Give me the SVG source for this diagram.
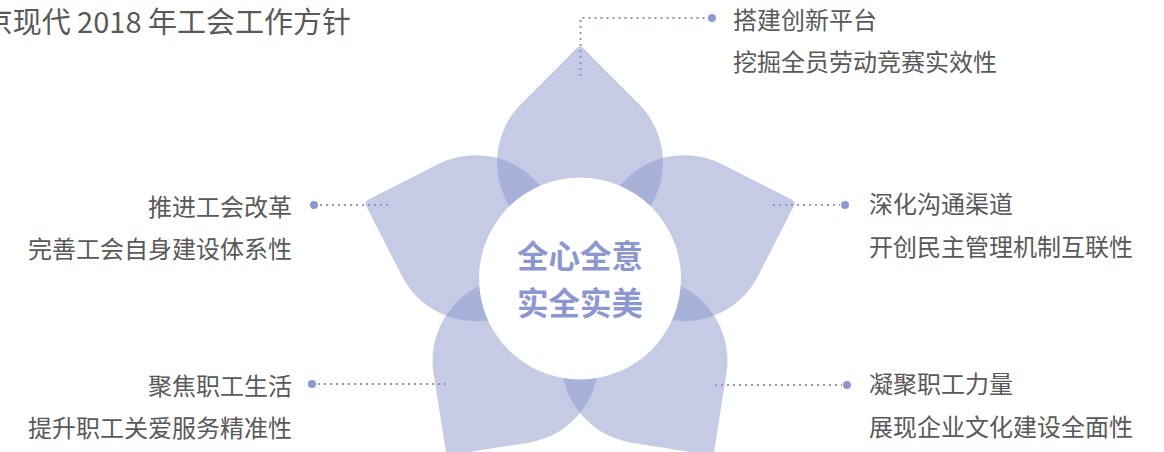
<svg xmlns="http://www.w3.org/2000/svg" width="1164" height="452" viewBox="0 0 1164 452">
  <style>
    .petal { fill: #8b97cb; fill-opacity: 0.5; }
    .lbl { font-family: "Noto Sans CJK SC", "Noto Sans", sans-serif; font-size: 24px; fill: #595959; }
    .title { font-family: "Noto Sans CJK SC", "Noto Sans", sans-serif; font-size: 29px; fill: #595959; }
    .core { font-family: "Noto Sans CJK SC", "Noto Sans", sans-serif; font-size: 31.5px; font-weight: bold; fill: #8c97cf; text-anchor: middle; }
    .dotline { fill: none; stroke: #8c97cf; stroke-width: 2; stroke-dasharray: 2 4; }
    .dot { fill: #8c97cf; }
  </style>
  <defs>
    <path id="petalShape" d="M-2.83,-224.15 A4,4 0 0 1 2.83,-224.15 L58.69,-168.29 A83,83 0 1 1 -58.69,-168.29 Z"/>
  </defs>

  <text class="title" x="351" y="33" text-anchor="end">京现代 2018 年工会工作方针</text>

  <g id="petals">
    <use href="#petalShape" class="petal" transform="translate(580,272) rotate(0)"/>
    <use href="#petalShape" class="petal" transform="translate(580,272) rotate(72)"/>
    <use href="#petalShape" class="petal" transform="translate(580,272) rotate(144)"/>
    <use href="#petalShape" class="petal" transform="translate(580,272) rotate(216)"/>
    <use href="#petalShape" class="petal" transform="translate(580,272) rotate(288)"/>
  </g>

  <g id="connectors">
    <path class="dotline" d="M580.5,76 L580.5,18 L708,18"/>
    <circle class="dot" cx="712" cy="18" r="4"/>
    <path class="dotline" d="M320,205 L389,205"/>
    <circle class="dot" cx="314" cy="205" r="4"/>
    <path class="dotline" d="M773,205 L840,205"/>
    <circle class="dot" cx="845" cy="205" r="4"/>
    <path class="dotline" d="M318,384 L446,384"/>
    <circle class="dot" cx="312" cy="384" r="4"/>
    <path class="dotline" d="M715,385 L842,385"/>
    <circle class="dot" cx="847" cy="385" r="4"/>
  </g>

  <g id="center">
    <circle cx="580" cy="278.5" r="101" fill="#ffffff"/>
    <text class="core" x="580" y="268">全心全意</text>
    <text class="core" x="580" y="315">实全实美</text>
  </g>

  <g id="node-top">
    <text class="lbl" x="733" y="29">搭建创新平台</text>
    <text class="lbl" x="733" y="71">挖掘全员劳动竞赛实效性</text>
  </g>
  <g id="node-left-top">
    <text class="lbl" x="292" y="216" text-anchor="end">推进工会改革</text>
    <text class="lbl" x="292" y="258" text-anchor="end">完善工会自身建设体系性</text>
  </g>
  <g id="node-right-top">
    <text class="lbl" x="869" y="213">深化沟通渠道</text>
    <text class="lbl" x="869" y="256">开创民主管理机制互联性</text>
  </g>
  <g id="node-left-bottom">
    <text class="lbl" x="292" y="395" text-anchor="end">聚焦职工生活</text>
    <text class="lbl" x="292" y="437" text-anchor="end">提升职工关爱服务精准性</text>
  </g>
  <g id="node-right-bottom">
    <text class="lbl" x="869" y="393">凝聚职工力量</text>
    <text class="lbl" x="869" y="436">展现企业文化建设全面性</text>
  </g>
</svg>
